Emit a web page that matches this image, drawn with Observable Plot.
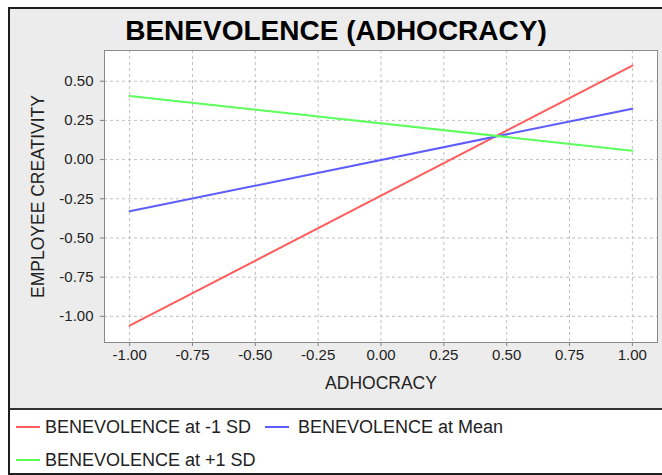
<!DOCTYPE html>
<html>
<head>
<meta charset="utf-8">
<script src="https://cdn.jsdelivr.net/npm/d3@7"></script>
<script src="https://cdn.jsdelivr.net/npm/@observablehq/plot@0.6"></script>
<style>
  html, body { margin: 0; padding: 0; background: #ffffff; }
  #frame { position: absolute; left: 8px; top: 7px; width: 654px; height: 464px;
    border-left: 2px solid #1e1e1e; border-top: 2px solid #1e1e1e; border-bottom: 2px solid #1e1e1e;
    font-family: "Liberation Sans", Arial, sans-serif; color: #222; }
  #panel { position: relative; width: 654px; height: 399px; background: #ececec; }
  #panel svg { position: absolute; left: 0; top: 0; }
  #title { position: absolute; left: 0; top: 8px; width: 652px; text-align: center;
    font-weight: bold; font-size: 28px; line-height: 28px; color: #000; z-index: 2; }
  #sep { height: 2px; background: #333; }
  #legend { position: relative; height: 63px; background: #ffffff; }
  .sw { position: absolute; width: 24px; height: 2px; }
  .lt { position: absolute; font-size: 18px; line-height: 20px; white-space: nowrap; color: #222; }
</style>
</head>
<body>
<div id="frame">
  <div id="panel"><div id="title"></div></div>
  <div id="sep"></div>
  <div id="legend"></div>
</div>
<script>
const titleText = "BENEVOLENCE (ADHOCRACY)";
const xLabel = "ADHOCRACY";
const yLabel = "EMPLOYEE CREATIVITY";
const xValues = [-1, 1];
const seriesNames = ["BENEVOLENCE at -1 SD", "BENEVOLENCE at Mean", "BENEVOLENCE at +1 SD"];
const lowValues = [-1.06, 0.60];
const meanValues = [-0.33, 0.325];
const highValues = [0.405, 0.057];
const seriesColors = ["#ff5c5c", "#5c5cff", "#5cff5c"];
const xTicks = [-1, -0.75, -0.5, -0.25, 0, 0.25, 0.5, 0.75, 1];
const yTicks = [-1, -0.75, -0.5, -0.25, 0, 0.25, 0.5];

const seriesValues = [lowValues, meanValues, highValues];
const rows = [];
seriesNames.forEach((name, i) => xValues.forEach((x, j) => rows.push({series: name, x, y: seriesValues[i][j]})));

const fmt = d => d.toFixed(2);
const gridStyle = {stroke: "#c0c0c0", strokeOpacity: 1, strokeDasharray: "3,3"};

const chart = Plot.plot({
  width: 652, height: 399,
  marginLeft: 94, marginRight: 5, marginTop: 41, marginBottom: 66,
  style: {background: "transparent", fontFamily: "'Liberation Sans', Arial, sans-serif", fontSize: "15px", overflow: "visible"},
  x: {domain: [-1.1, 1.1]},
  y: {domain: [-1.167, 0.696]},
  color: {domain: seriesNames, range: seriesColors},
  marks: [
    Plot.frame({fill: "white"}),
    Plot.gridX(xTicks, gridStyle),
    Plot.gridY(yTicks, gridStyle),
    Plot.axisX(xTicks, {tickFormat: fmt, tickSize: 4, tickPadding: 3, stroke: "#808080", fill: "#222", fontSize: 15, label: null}),
    Plot.axisY(yTicks, {tickFormat: fmt, tickSize: 4, tickPadding: 7, stroke: "#808080", fill: "#222", fontSize: 15, label: null}),
    Plot.line(rows, {x: "x", y: "y", z: "series", stroke: "series", strokeWidth: 2}),
    Plot.frame({stroke: "#8a8a8a"}),
    Plot.text([xLabel], {text: d => d, frameAnchor: "bottom", textAnchor: "middle", lineAnchor: "middle", dy: 41, fontSize: 17.5, fill: "#222"}),
    Plot.text([yLabel], {text: d => d, frameAnchor: "left", textAnchor: "middle", lineAnchor: "middle", dx: -66, rotate: -90, fontSize: 17.5, fill: "#222"})
  ]
});
document.getElementById("panel").appendChild(chart);
document.getElementById("title").textContent = titleText;

const legend = document.getElementById("legend");
const legendItems = [
  {i: 0, sx: 6, tx: 35, top: 7},
  {i: 1, sx: 255, tx: 288, top: 7},
  {i: 2, sx: 6, tx: 35, top: 40}
];
legendItems.forEach(({i, sx, tx, top}) => {
  const sw = document.createElement("div");
  sw.className = "sw";
  sw.style.left = sx + "px";
  sw.style.top = (top + 9) + "px";
  sw.style.background = seriesColors[i];
  legend.appendChild(sw);
  const t = document.createElement("div");
  t.className = "lt";
  t.style.left = tx + "px";
  t.style.top = top + "px";
  t.textContent = seriesNames[i];
  legend.appendChild(t);
});
</script>
</body>
</html>
